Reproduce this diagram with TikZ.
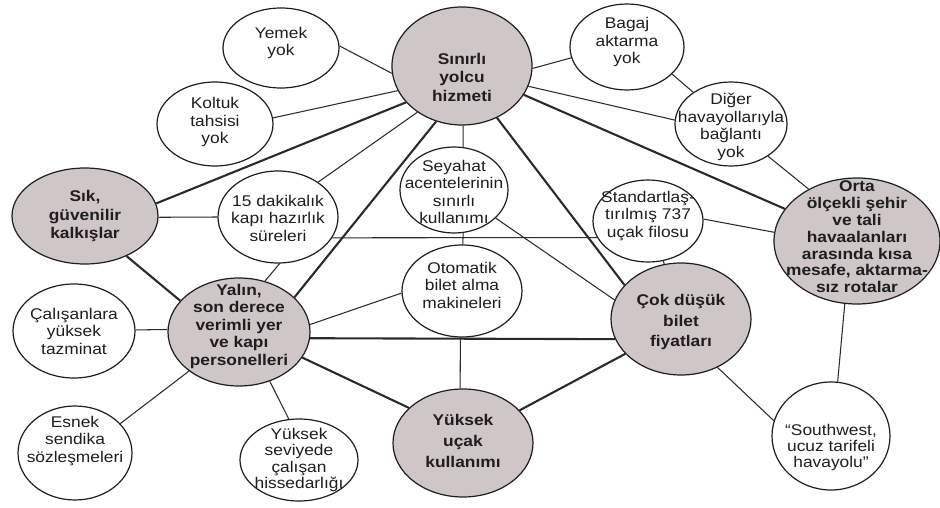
\documentclass[tikz,border=0pt]{standalone}
\usepackage{fontspec}
\setmainfont{Liberation Sans}[FakeStretch=1.12]
\usetikzlibrary{shapes.geometric}

\definecolor{inkc}{HTML}{1E1E1E}
\definecolor{linec}{HTML}{2A2A2A}
\definecolor{greyfill}{HTML}{CEC6C7}

\tikzset{
  bub/.style 2 args={ellipse, draw=inkc, line width=1.2pt, inner sep=0pt,
                    minimum width=#1pt, minimum height=#2pt},
  wb/.style 2 args={bub={#1}{#2}, fill=white},
  gb/.style 2 args={bub={#1}{#2}, fill=greyfill},
  wt/.style={align=center, text=inkc, inner sep=0pt,
             font=\fontsize{15.5}{17.5}\selectfont},
  bt/.style={align=center, text=inkc, inner sep=0pt,
             font=\bfseries\fontsize{15.5}{17.5}\selectfont},
  lnk/.style={draw=linec, line width=1.05pt},
  blnk/.style={draw=linec, line width=2.1pt},
}

\begin{document}
\begin{tikzpicture}[x=1pt, y=-1pt]
\useasboundingbox (0,0) rectangle (940,508);
\fill[white] (0,0) rectangle (940,508);

% ---- activity-system bubbles ----
\node[wb={116}{80}, label={[wt, yshift=5pt]center:{Yemek\\yok}}] (yem) at (281,48) {};
\node[wb={116}{84}, label={[wt, yshift=2pt]center:{Koltuk\\tahsisi\\yok}}] (kol) at (215,124) {};
\node[gb={140}{118}, label={[bt, yshift=-11pt, font=\bfseries\fontsize{15.5}{18.5}\selectfont]center:{Sınırlı\\yolcu\\hizmeti}}] (sin) at (462,66) {};
\node[wb={114}{86}, label={[wt, yshift=5pt]center:{Bagaj\\aktarma\\yok}}] (bag) at (627,47) {};
\node[wb={112}{84}, label={[wt, yshift=-3pt]center:{Diğer\\havayollarıyla\\bağlantı\\yok}}] (dig) at (731,124) {};
\node[gb={146}{96}, label={[bt, font=\bfseries\fontsize{15.5}{18.5}\selectfont]center:{Sık,\\güvenilir\\kalkışlar}}] (sik) at (85,216) {};
\node[wb={120}{92}, label={[wt, yshift=-1pt]center:{15 dakikalık\\kapı hazırlık\\süreleri}}] (fif) at (278,217) {};
\node[wb={108}{86}, label={[wt, yshift=-2pt]center:{Seyahat\\acentelerinin\\sınırlı\\kullanımı}}] (sey) at (454,190) {};
\node[wb={110}{82}, label={[wt, yshift=5pt]center:{Standartlaş-\\tırılmış 737\\uçak filosu}}] (std) at (648,221) {};
\node[gb={166}{126}, label={[bt, yshift=4pt, font=\bfseries\fontsize{15.5}{16.8}\selectfont]center:{Orta\\ölçekli şehir\\ve tali\\havaalanları\\arasında kısa\\mesafe, aktarma-\\sız rotalar}}] (ort) at (857,241) {};
\node[gb={142}{108}, label={[bt, yshift=6pt]center:{Yalın,\\son derece\\verimli yer\\ve kapı\\personelleri}}] (yal) at (239,332) {};
\node[wb={120}{92}, label={[wt, yshift=6pt]center:{Otomatik\\bilet alma\\makineleri}}] (oto) at (462,291) {};
\node[gb={140}{112}, label={[bt, yshift=-3pt, font=\bfseries\fontsize{15.5}{20.5}\selectfont]center:{Çok düşük\\bilet\\fiyatları}}] (cok) at (681,319) {};
\node[wb={122}{94}, label={[wt]center:{Çalışanlara\\yüksek\\tazminat}}] (cal) at (74,331) {};
\node[wb={114}{94}, label={[wt, yshift=12pt]center:{Esnek\\sendika\\sözleşmeleri}}] (esn) at (75,453) {};
\node[wb={118}{82}, label={[wt, font=\fontsize{15.5}{16.2}\selectfont]center:{Yüksek\\seviyede\\çalışan\\hissedarlığı}}] (his) at (299,460) {};
\node[gb={140}{108}, label={[bt, yshift=2pt, font=\bfseries\fontsize{15.5}{21}\selectfont]center:{Yüksek\\uçak\\kullanımı}}] (yuk) at (463,443) {};
\node[wb={118}{108}, label={[wt, yshift=-11pt, font=\fontsize{15.5}{16}\selectfont]center:{“Southwest,\\ucuz tarifeli\\havayolu”}}] (sw) at (831,436) {};

% ---- links ----
\draw[lnk]  (sin.-174) -- (yem.2);
\draw[lnk]  (sin.-159) -- (kol.6);
\draw[blnk] (sin.-147) -- (sik.10);
\draw[lnk]  (sin.-134) -- (fif.41);
\draw[blnk] (sin.-115) -- (yal.32);
\draw[lnk]  (sin.-89)  -- (sey.78);
\draw[blnk] (sin.-56)  -- (cok.149);
\draw[lnk]  (sin.-2)   -- (bag.-169);
\draw[lnk]  (sin.-17)  -- (dig.176);
\draw[blnk] (sin.-25)  -- (ort.156);
\draw[lnk]  (bag.-31)  -- (dig.140);
\draw[lnk]  (dig.-41)  -- (ort.133);
\draw[lnk]  (std.2)    -- (ort.174);
\draw[lnk]  (std.-69)  -- (cok.107);
\draw[lnk]  (sik.-1)   -- (fif.180);
\draw[lnk]  (fif.-88)  -- (yal.63);
\draw[lnk]  (fif.-21)  -- (std.-162);
\draw[lnk]  (sey.-78)  -- (oto.89);
\draw[lnk]  (sey.-34)  -- (cok.164);
\draw[lnk]  (oto.-178) -- (yal.6);
\draw[lnk]  (oto.-92)  -- (yuk.93);
\draw[blnk] (yal.-5.6) -- (cok.-163.6);
\draw[blnk] (yal.-22)  -- (yuk.147);
\draw[blnk] (cok.-148) -- (yuk.30);
\draw[blnk] (yal.152)  -- (sik.-44);
\draw[lnk]  (cal.1)    -- (yal.178);
\draw[lnk]  (esn.33)   -- (yal.-142);
\draw[lnk]  (yal.-58)  -- (his.104);
\draw[lnk]  (cok.-53)  -- (sw.165);
\draw[lnk]  (ort.-101) -- (sw.83);
\end{tikzpicture}
\end{document}
